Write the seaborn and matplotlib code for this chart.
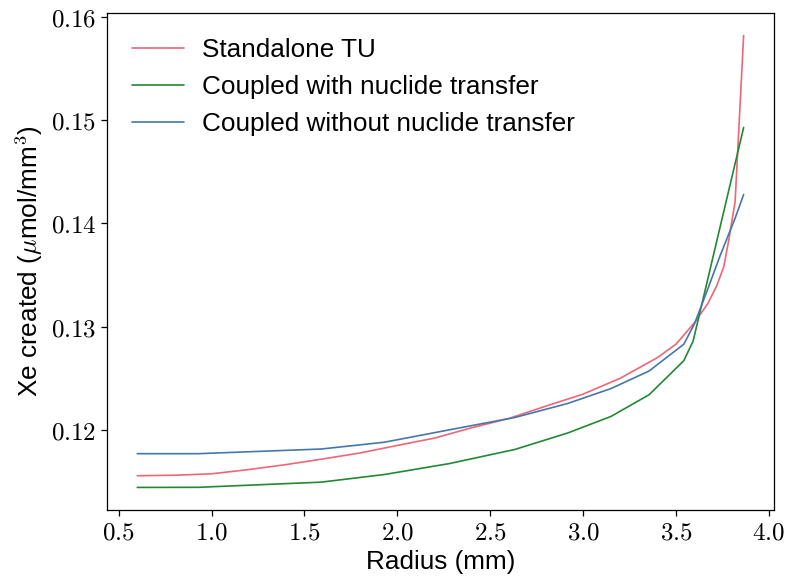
import numpy as np
import pandas as pd
import matplotlib
matplotlib.use("Agg")
import matplotlib.pyplot as plt
from matplotlib.ticker import FuncFormatter
import seaborn as sns

# -----------------------------
# DATA
# -----------------------------
tu_radius = [0.6, 0.8, 1.0, 1.2, 1.4, 1.6, 1.8, 2.0, 2.2, 2.4, 2.6, 2.8,
             3.0, 3.2, 3.4, 3.5, 3.6, 3.67, 3.72, 3.757, 3.785, 3.818, 3.864]
tu_xe = [0.11555, 0.1156, 0.11574, 0.11615, 0.11663, 0.11718, 0.11776, 0.11849,
         0.1192, 0.1202, 0.1211, 0.1223, 0.12346, 0.1250, 0.1270, 0.1283,
         0.1304, 0.1322, 0.1340, 0.1358, 0.1385, 0.1421, 0.1582]

with_radius = [0.6, 0.93, 1.59, 1.93, 2.28, 2.633, 2.918, 3.15, 3.355,
               3.542, 3.592, 3.864]
with_xe = [0.11442, 0.11443, 0.11493, 0.11567, 0.11673, 0.1181, 0.1197,
           0.1213, 0.1234, 0.1267, 0.1286, 0.1493]

without_radius = [0.6, 0.93, 1.59, 1.93, 2.28, 2.633, 2.918, 3.15, 3.355,
                  3.542, 3.6, 3.67, 3.74, 3.816, 3.864]
without_xe = [0.11769, 0.11769, 0.11814, 0.1188, 0.1200, 0.1212, 0.12256,
              0.1240, 0.1257, 0.1283, 0.1303, 0.1336, 0.1370, 0.1404, 0.1428]

labels = ["Standalone TU", "Coupled with nuclide transfer",
          "Coupled without nuclide transfer"]
colors = ["#EE6677", "#228833", "#4477AA"]

df = pd.concat([
    pd.DataFrame({"radius": tu_radius, "xe": tu_xe, "case": labels[0]}),
    pd.DataFrame({"radius": with_radius, "xe": with_xe, "case": labels[1]}),
    pd.DataFrame({"radius": without_radius, "xe": without_xe, "case": labels[2]}),
], ignore_index=True)

# -----------------------------
# STYLE
# -----------------------------
sns.set_style("ticks")
plt.rcParams["font.family"] = ["Liberation Sans", "DejaVu Sans"]
plt.rcParams["mathtext.fontset"] = "cm"
plt.rcParams["axes.linewidth"] = 0.9
plt.rcParams["axes.edgecolor"] = "black"
plt.rcParams["axes.labelcolor"] = "black"
plt.rcParams["text.color"] = "black"
plt.rcParams["xtick.color"] = "black"
plt.rcParams["ytick.color"] = "black"

fig, ax = plt.subplots(figsize=(7.9, 5.83), dpi=100)
fig.subplots_adjust(left=0.1354, right=0.9797, top=0.9777, bottom=0.1252)

sns.lineplot(data=df, x="radius", y="xe", hue="case", palette=colors,
             sort=False, estimator=None, linewidth=1.2, ax=ax)

ax.set_xlabel("Radius (mm)", fontsize=18.8)
ax.set_ylabel(r"Xe created ($\mu$mol/mm$^3$)", fontsize=18.8)

ax.set_xticks([0.5, 1.0, 1.5, 2.0, 2.5, 3.0, 3.5, 4.0])
ax.set_yticks([0.12, 0.13, 0.14, 0.15, 0.16])
ax.xaxis.set_major_formatter(FuncFormatter(lambda v, p: f"${v:.1f}$"))
ax.yaxis.set_major_formatter(FuncFormatter(lambda v, p: f"${v:.2f}$"))
ax.tick_params(labelsize=18, length=4, width=0.9)

handles, _ = ax.get_legend_handles_labels()
ax.legend(handles=handles, labels=labels, loc="upper left", frameon=False,
          fontsize=18.8, borderaxespad=0.55, labelspacing=0.5,
          handletextpad=0.7)

fig.savefig("out.png", dpi=100)
